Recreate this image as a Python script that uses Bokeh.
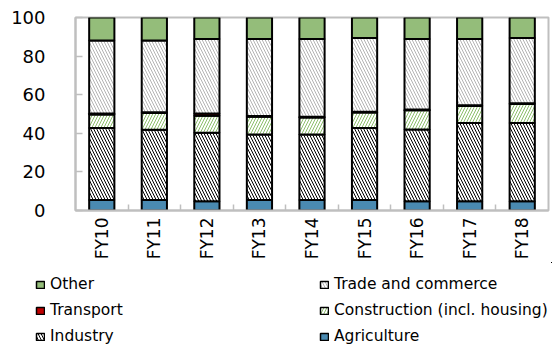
import math

from bokeh.embed import file_html
from bokeh.models import ColumnDataSource, FixedTicker, Legend, LegendItem
from bokeh.plotting import figure
from bokeh.resources import INLINE

# Share of each sector (%) by fiscal year
years = ["FY10", "FY11", "FY12", "FY13", "FY14", "FY15", "FY16", "FY17", "FY18"]
agriculture = [5.5, 5.5, 4.8, 5.5, 5.5, 5.5, 4.8, 4.8, 4.8]
industry = [37.2, 36.4, 35.5, 33.9, 33.9, 37.2, 37.2, 40.5, 40.5]
construction = [7.1, 8.6, 8.8, 9.2, 8.8, 8.1, 9.9, 8.8, 9.9]
transport = [0.4, 0.4, 1.2, 0.4, 0.4, 0.4, 0.4, 0.4, 0.4]
trade = [37.9, 37.2, 38.6, 39.9, 40.3, 38.2, 36.6, 34.4, 33.8]
other = [11.9, 11.9, 11.1, 11.1, 11.1, 10.6, 11.1, 11.1, 10.6]
y_ticks = [0, 20, 40, 60, 80, 100]

keys = ["agriculture", "industry", "construction", "transport", "trade", "other"]
labels = ["Agriculture", "Industry", "Construction (incl. housing)", "Transport",
          "Trade and commerce", "Other"]

x = [i + 0.5 for i in range(len(years))]
source = ColumnDataSource(dict(
    x=x, agriculture=agriculture, industry=industry, construction=construction,
    transport=transport, trade=trade, other=other,
))

FONT = "DejaVu Sans"
GRAY = "#bfbfbf"

fills = ["#4a8ab1", "white", "white", "#c00000", "white", "#94bd7a"]
hatches = [" ", "\\", "/", " ", "\\", " "]
hatch_colors = ["black", "black", "#8cbf6c", "black", "#b4b4b4", "black"]

# ---- stacked bar chart ----
p = figure(
    width=552, height=262,
    x_range=(0, len(years)), y_range=(0, 100),
    output_backend="svg", toolbar_location=None,
    min_border_left=75, min_border_right=4, min_border_top=17, min_border_bottom=51,
    background_fill_color="white", border_fill_color="white",
)

p.vbar_stack(
    keys, x="x", width=0.48, source=source,
    fill_color=fills, hatch_pattern=hatches, hatch_color=hatch_colors,
    hatch_scale=6, hatch_weight=1,
    line_color="black", line_width=2,
)

p.outline_line_color = GRAY
p.outline_line_width = 2
p.xgrid.visible = False
p.ygrid.visible = False

xa = p.xaxis[0]
xa.ticker = FixedTicker(ticks=x, minor_ticks=list(range(1, len(years))))
xa.major_label_overrides = {xi: yr for xi, yr in zip(x, years)}
xa.major_label_orientation = math.pi / 2
xa.major_tick_in = 0
xa.major_tick_out = 0
xa.minor_tick_in = 6
xa.minor_tick_out = 0
xa.minor_tick_line_color = GRAY
xa.minor_tick_line_width = 1.5
xa.axis_line_color = GRAY
xa.axis_line_width = 2
xa.major_label_standoff = 7
xa.major_label_text_font = FONT
xa.major_label_text_font_size = "17px"
xa.major_label_text_color = "black"

ya = p.yaxis[0]
ya.ticker = FixedTicker(ticks=y_ticks)
ya.major_tick_in = 7
ya.major_tick_out = 0
ya.major_tick_line_color = GRAY
ya.major_tick_line_width = 1.5
ya.minor_tick_line_color = None
ya.axis_line_color = GRAY
ya.axis_line_width = 2
ya.major_label_standoff = 30
ya.major_label_text_font = FONT
ya.major_label_text_font_size = "18px"
ya.major_label_text_color = "black"

# ---- legend strip underneath ----
# its ranges lie away from every bar, so the swatch renderers draw nothing
# in the strip itself and only lend their styling to the legend entries
leg = figure(
    width=552, height=83, x_range=(-20, -19), y_range=(-20, -19),
    output_backend="svg", toolbar_location=None,
    x_axis_location=None, y_axis_location=None,
    min_border=0, outline_line_color=None,
    background_fill_color="white", border_fill_color="white",
)
leg.xgrid.visible = False
leg.ygrid.visible = False

swatch = {}
for k, fc, hp, hc in zip(keys, fills, hatches, hatch_colors):
    swatch[k] = leg.vbar(
        x="x", top=k, width=0.48, source=source,
        fill_color=fc, hatch_pattern=hp, hatch_color=hc,
        hatch_scale=6, hatch_weight=1,
        line_color="black", line_width=1.5,
    )
name_of = dict(zip(keys, labels))

def legend_block(sel, loc):
    return Legend(
        items=[LegendItem(label=name_of[k], renderers=[swatch[k]]) for k in sel],
        location=loc, orientation="vertical",
        border_line_color=None, background_fill_alpha=0,
        padding=0, margin=0, spacing=0,
        glyph_width=10, glyph_height=9, label_standoff=5, label_height=26,
        label_text_font=FONT, label_text_font_size="15.5px", label_text_color="black",
    )

leg.add_layout(legend_block(["other", "transport", "industry"], (35, -4)))
leg.add_layout(legend_block(["trade", "construction", "agriculture"], (319, -4)))

open("out.html", "w").write(file_html([p, leg], INLINE))
